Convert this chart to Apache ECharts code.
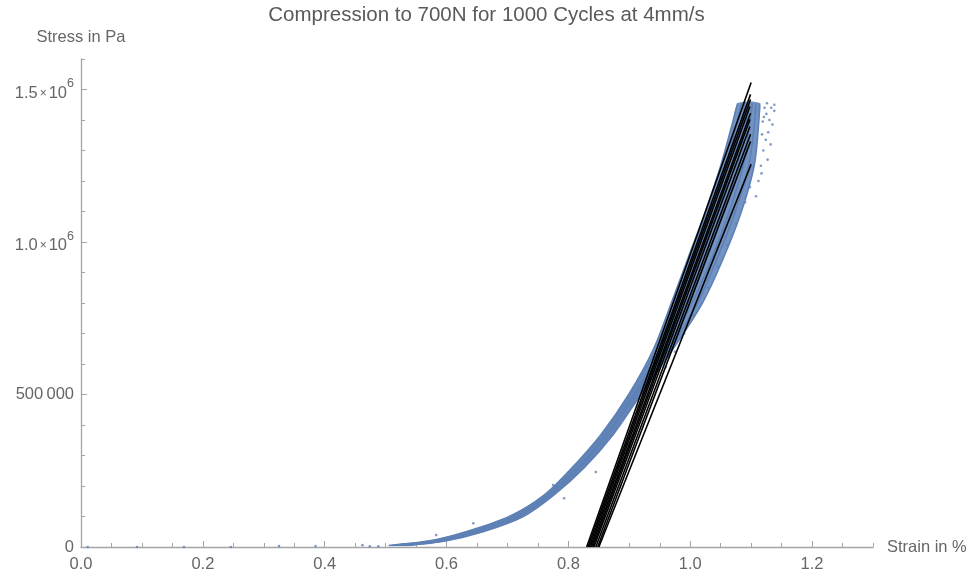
<!DOCTYPE html>
<html><head><meta charset="utf-8">
<script src="https://cdn.jsdelivr.net/npm/echarts@6/dist/echarts.min.js"></script>
<style>html,body{margin:0;padding:0;background:#fff}#c{width:973px;height:577px}</style>
</head><body><div id="c"></div>
<script>
// ---- data ----
const titleText = 'Compression to 700N for 1000 Cycles at 4mm/s';
// stress levels (Pa) at which the strain (%) of each representative loading cycle was read
const stressLevels = [5000, 20000, 50000, 100000, 170000, 260000, 370000, 500000, 650000, 800000, 950000, 1100000, 1250000, 1380000, 1455000];
const cycleA = [0.505, 0.572, 0.632, 0.703, 0.760, 0.806, 0.854, 0.899, 0.940, 0.969, 0.997, 1.025, 1.050, 1.068, 1.078];
const cycleB = [0.510, 0.576, 0.637, 0.707, 0.763, 0.809, 0.857, 0.902, 0.945, 0.978, 1.007, 1.035, 1.059, 1.075, 1.084];
const cycleC = [0.515, 0.581, 0.641, 0.711, 0.765, 0.813, 0.861, 0.906, 0.951, 0.986, 1.016, 1.045, 1.068, 1.083, 1.090];
const cycleD = [0.520, 0.585, 0.646, 0.715, 0.768, 0.816, 0.864, 0.909, 0.956, 0.995, 1.026, 1.054, 1.078, 1.090, 1.096];
const cycleE = [0.525, 0.589, 0.651, 0.718, 0.771, 0.819, 0.867, 0.912, 0.961, 1.003, 1.036, 1.064, 1.087, 1.097, 1.102];
const cycleF = [0.530, 0.594, 0.655, 0.722, 0.773, 0.823, 0.871, 0.916, 0.967, 1.012, 1.045, 1.074, 1.096, 1.105, 1.108];
const cycleG = [0.535, 0.598, 0.660, 0.726, 0.776, 0.826, 0.874, 0.919, 0.972, 1.020, 1.055, 1.084, 1.105, 1.112, 1.114];
const cycles = [cycleA, cycleB, cycleC, cycleD, cycleE, cycleF, cycleG];
// sparse individual samples [strain, stress]
const sparsePoints = [
  [0.011, 0], [0.092, 0], [0.169, 0], [0.246, 0], [0.325, 3000], [0.385, 3000],
  [0.462, 6000], [0.474, 2000], [0.488, 2000], [0.583, 39000], [0.644, 78000],
  [0.775, 203000], [0.793, 160000], [0.845, 246000],
  [0.960, 590000], [0.975, 640000], [0.990, 700000], [1.005, 760000], [1.030, 850000],
  [1.045, 920000], [1.060, 990000], [1.075, 1060000], [1.090, 1130000], [1.098, 1180000],
  [1.138, 1450000], [1.135, 1385000], [1.127, 1270000], [1.118, 1353000], [1.132, 1320000],
  [1.125, 1420000], [1.130, 1400000], [1.120, 1300000], [1.138, 1430000], [1.122, 1440000],
  [1.116, 1250000], [1.128, 1360000], [1.124, 1335000], [1.133, 1440000], [1.119, 1395000],
  [1.112, 1200000], [1.108, 1150000], [1.117, 1225000], [1.121, 1410000], [1.126, 1455000]
];
// straight unloading lines: base strain at zero stress, top strain, top stress
const lineBaseStrain = [0.830, 0.832, 0.834, 0.836, 0.838, 0.840, 0.842, 0.845, 0.848, 0.850];
const lineTopStrain  = [1.100, 1.099, 1.099, 1.098, 1.099, 1.098, 1.098, 1.099, 1.099, 1.100];
const lineTopStress  = [1523000, 1484000, 1467000, 1444000, 1422000, 1402000, 1379000, 1353000, 1330000, 1255000];
// ticks
const xMajorTicks = [0, 0.2, 0.4, 0.6, 0.8, 1.0, 1.2];
const xTickLabels = ['0.0', '0.2', '0.4', '0.6', '0.8', '1.0', '1.2'];
const xMinorTicks = [0.05, 0.1, 0.15, 0.25, 0.3, 0.35, 0.45, 0.5, 0.55, 0.65, 0.7, 0.75, 0.85, 0.9, 0.95, 1.05, 1.1, 1.15, 1.25, 1.3];
const yMajorTicks = [0, 500000, 1000000, 1500000];
const yTickLabels = ['0', '500\u2009000', '{m|1.0}{x|×}{m|10}{s|6}', '{m|1.5}{x|×}{m|10}{s|6}'];
const yMinorTicks = [100000, 200000, 300000, 400000, 600000, 700000, 800000, 900000, 1100000, 1200000, 1300000, 1400000, 1600000];

// ---- chart ----
const axisColor = '#a4a4a4';
const textColor = '#666666';
const font = 'Liberation Sans, Arial, sans-serif';
const blue = '#5E81B5';

const series = [];
// filled band between the outermost cycles
const bandOutline = stressLevels.map((s, i) => [cycleA[i], s])
  .concat(stressLevels.map((s, i) => [cycleG[i], s]).reverse());
series.push({
  type: 'custom', xAxisIndex: 0, yAxisIndex: 0, silent: true, z: 1,
  data: [0],
  renderItem: (params, api) => ({
    type: 'polygon',
    shape: { points: bandOutline.map(p => api.coord(p)), smooth: 0.2 },
    style: { fill: '#7393c3', stroke: null }
  })
});
cycles.forEach((c) => {
  series.push({
    type: 'line', xAxisIndex: 0, yAxisIndex: 0,
    data: stressLevels.map((s, i) => [c[i], s]),
    smooth: 0.3, showSymbol: false, symbol: 'none',
    lineStyle: { color: blue, width: 1.6 }, silent: true, z: 2
  });
});
series.push({
  type: 'scatter', xAxisIndex: 0, yAxisIndex: 0, data: sparsePoints,
  symbolSize: 2.6, itemStyle: { color: blue }, silent: true, z: 2
});
lineBaseStrain.forEach((b, i) => {
  series.push({
    type: 'line', xAxisIndex: 0, yAxisIndex: 0,
    data: [[b, 0], [lineTopStrain[i], lineTopStress[i]]],
    showSymbol: false, symbol: 'none',
    lineStyle: { color: '#000', width: 1.6 }, silent: true, z: 3
  });
});

const chart = echarts.init(document.getElementById('c'), null, { renderer: 'canvas' });
chart.setOption({
  animation: false,
  backgroundColor: '#fff',
  textStyle: { fontFamily: font },
  title: {
    text: titleText, left: 'center', top: 0,
    textStyle: { fontFamily: font, fontSize: 20.5, fontWeight: 'normal', color: '#5a5a5a' }
  },
  grid: { left: 81, right: 100, top: 59, bottom: 30, containLabel: false },
  xAxis: [{
    type: 'value', min: 0, max: 1.3, position: 'bottom',
    axisLine: { show: true, onZero: false, lineStyle: { color: axisColor, width: 1.3 } },
    axisTick: { show: true, inside: true, length: 6, customValues: xMajorTicks, lineStyle: { color: axisColor, width: 1 } },
    axisLabel: { customValues: xMajorTicks, formatter: (v) => xTickLabels[xMajorTicks.findIndex(t => Math.abs(t - v) < 1e-9)], color: textColor, fontSize: 16.5, margin: 9, fontFamily: font },
    splitLine: { show: false },
    name: 'Strain in %', nameLocation: 'end', nameGap: 14,
    nameTextStyle: { color: textColor, fontSize: 16.5, fontFamily: font }
  }, {
    type: 'value', min: 0, max: 1.3, position: 'bottom',
    axisLine: { show: false, onZero: false },
    axisTick: { show: true, inside: true, length: 4, customValues: xMinorTicks, lineStyle: { color: axisColor, width: 1 } },
    axisLabel: { show: false }, splitLine: { show: false }
  }],
  yAxis: [{
    type: 'value', min: 0, max: 1600000, position: 'left',
    axisLine: { show: true, onZero: false, lineStyle: { color: axisColor, width: 1.3 } },
    axisTick: { show: true, inside: true, length: 6, customValues: yMajorTicks, lineStyle: { color: axisColor, width: 1 } },
    axisLabel: {
      customValues: yMajorTicks,
      formatter: (v) => yTickLabels[yMajorTicks.indexOf(v)],
      color: textColor, fontSize: 16.5, margin: 7, fontFamily: font,
      rich: {
        m: { fontSize: 16.5, color: textColor, lineHeight: 24, verticalAlign: 'bottom', fontFamily: font },
        x: { fontSize: 12, color: textColor, lineHeight: 24, verticalAlign: 'bottom', padding: [0, 2, 2, 2], fontFamily: font },
        s: { fontSize: 12.5, color: textColor, lineHeight: 24, verticalAlign: 'top', fontFamily: font }
      }
    },
    splitLine: { show: false },
    name: 'Stress in Pa', nameLocation: 'end', nameGap: 13,
    nameTextStyle: { color: textColor, fontSize: 16.5, fontFamily: font }
  }, {
    type: 'value', min: 0, max: 1600000, position: 'left',
    axisLine: { show: false, onZero: false },
    axisTick: { show: true, inside: true, length: 4, customValues: yMinorTicks, lineStyle: { color: axisColor, width: 1 } },
    axisLabel: { show: false }, splitLine: { show: false }
  }],
  series: series
});
</script>
</body></html>
